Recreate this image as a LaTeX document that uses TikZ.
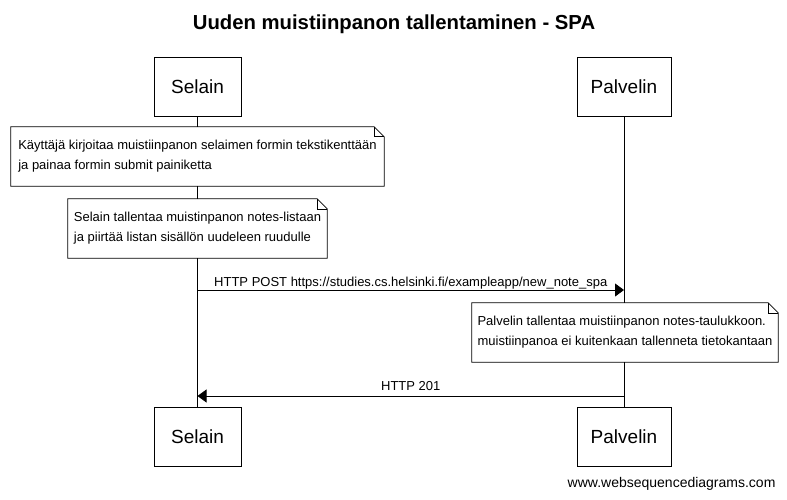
\documentclass[tikz,border=0pt]{standalone}
\usepackage{fontspec}
\setmainfont{Liberation Sans}
\usetikzlibrary{arrows.meta,calc}
\newcommand\drawnote[1]{%
  \draw[line width=0.8pt] (#1.north west) -- ($(#1.north east)+(-10,0)$) -- ($(#1.north east)+(0,10)$) -- (#1.south east) -- (#1.south west) -- cycle;
  \draw[line width=0.6pt] ($(#1.north east)+(-10,0)$) -- ($(#1.north east)+(-10,10)$) -- ($(#1.north east)+(0,10)$);}
\begin{document}
\begin{tikzpicture}[x=1pt,y=-1pt,
  actor/.style={draw,line width=0.8pt,minimum width=87pt,minimum height=59pt,inner sep=0pt,font=\fontsize{19}{23}\selectfont,fill=white},
  notebox/.style={fill=white,minimum height=59pt,inner xsep=5pt,inner ysep=0pt,align=left,font=\fontsize{13}{20}\selectfont},
  msg/.style={line width=0.8pt,-{Triangle[length=9pt,width=13pt]}},
  lbl/.style={font=\fontsize{13}{16}\selectfont,inner sep=0pt,anchor=base},
  life/.style={line width=0.8pt}]
\useasboundingbox[fill=white] (0,0) rectangle (787,500);
\node[font=\bfseries\fontsize{20.3}{24}\selectfont] (title) at (394,24) {Uuden muistiinpanon tallentaminen - SPA};
\node[actor] (s1) at (197.5,86.5) {Selain};
\node[actor,minimum width=94pt] (p1) at (624,86.5) {Palvelin};
\node[actor] (s2) at (197.5,436.5) {Selain};
\node[actor,minimum width=94pt] (p2) at (624,436.5) {Palvelin};
\draw[life] (s1) -- (s2);
\draw[life] (p1) -- (p2);
\node[notebox,minimum width=373pt] (n1) at (197.5,156.5) {Käyttäjä kirjoitaa muistiinpanon selaimen formin tekstikenttään\\ja painaa formin submit painiketta};
\drawnote{n1}
\node[notebox,minimum width=259pt] (n2) at (197.5,228.5) {Selain tallentaa muistinpanon notes-listaan\\ja piirtää listan sisällön uudeleen ruudulle};
\drawnote{n2}
\coordinate (a1s) at (197.5,290);
\coordinate (a1e) at (624,290);
\draw[msg] (a1s) -- (a1e) node[lbl,midway,yshift=4pt] (l1) {HTTP POST https://studies.cs.helsinki.fi/exampleapp/new\_note\_spa};
\node[notebox,minimum width=306pt] (n3) at (625,332.5) {Palvelin tallentaa muistiinpanon notes-taulukkoon.\\muistiinpanoa ei kuitenkaan tallenneta tietokantaan};
\drawnote{n3}
\coordinate (a2s) at (624,396);
\coordinate (a2e) at (197.5,396);
\draw[msg] (a2s) -- (a2e) node[lbl,midway,yshift=6pt] (l2) {HTTP 201};
\node[font=\fontsize{14}{17}\selectfont,anchor=east] (wm) at (779,484) {www.websequencediagrams.com};
\end{tikzpicture}
\end{document}
